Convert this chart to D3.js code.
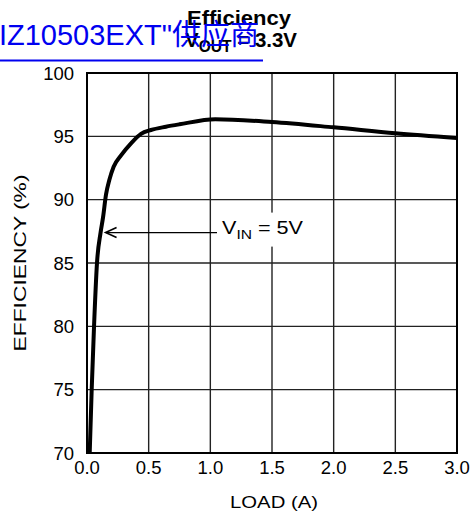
<!DOCTYPE html>
<html><head><meta charset="utf-8">
<script src="https://cdn.jsdelivr.net/npm/d3@7"></script>
<style>body{margin:0;background:#fff}svg{display:block}</style>
</head><body>
<script>
const loadA = [0.022, 0.038, 0.057, 0.081, 0.11, 0.13, 0.154, 0.181, 0.216, 0.276, 0.357, 0.438, 0.519, 0.64, 0.75, 1.04, 1.5, 2.0, 2.5, 3.0];
const efficiency = [70, 75, 80, 85, 87.4, 88.6, 90.4, 91.55, 92.6, 93.5, 94.45, 95.2, 95.5, 95.76, 95.95, 96.35, 96.13, 95.71, 95.24, 94.87];
const xTicks = [0, 0.5, 1.0, 1.5, 2.0, 2.5, 3.0];
const yTicks = [70, 75, 80, 85, 90, 95, 100];
const title = "Efficiency";
const annotation = {x: 0.11, y: 87.4};

const W = 474, H = 522;
const m = {l: 87, r: 17, t: 73, b: 69};
const svg = d3.select("body").append("svg").attr("width", W).attr("height", H);
const x = d3.scaleLinear().domain([0, 3]).range([m.l, W - m.r]);
const y = d3.scaleLinear().domain([70, 100]).range([H - m.b, m.t]);
const font = "'Liberation Sans', Arial, Helvetica, sans-serif";

// grid
svg.append("g").selectAll("line").data(xTicks.slice(1, -1)).join("line")
  .attr("x1", d => x(d)).attr("x2", d => x(d)).attr("y1", y(70)).attr("y2", y(100))
  .attr("stroke", "#222").attr("stroke-width", 1.4);
svg.append("g").selectAll("line").data(yTicks.slice(1, -1)).join("line")
  .attr("y1", d => y(d)).attr("y2", d => y(d)).attr("x1", x(0)).attr("x2", x(3))
  .attr("stroke", "#222").attr("stroke-width", 1.4);

// annotation label with white background
const lx = x(annotation.x), ly = y(annotation.y);
svg.append("rect").attr("x", 219).attr("y", ly - 20).attr("width", 87).attr("height", 34).attr("fill", "#fff");
const at = svg.append("text").attr("x", 222).attr("y", ly + 1.5)
  .attr("font-family", font).attr("font-size", 18).attr("fill", "#000")
  .attr("textLength", 81).attr("lengthAdjust", "spacingAndGlyphs");
at.append("tspan").text("V");
at.append("tspan").attr("dy", 5).attr("font-size", 13).text("IN");
at.append("tspan").attr("dy", -5).text(" = 5V");

// arrow
svg.append("line").attr("x1", 217).attr("x2", lx + 6).attr("y1", ly).attr("y2", ly)
  .attr("stroke", "#000").attr("stroke-width", 1.3);
svg.append("path").attr("d", `M${lx + 16},${ly - 5} L${lx + 5},${ly} L${lx + 16},${ly + 5}`)
  .attr("fill", "none").attr("stroke", "#000").attr("stroke-width", 1.6);

// frame
svg.append("rect").attr("x", x(0)).attr("y", y(100)).attr("width", x(3) - x(0)).attr("height", y(70) - y(100))
  .attr("fill", "none").attr("stroke", "#000").attr("stroke-width", 2);

// curve
const pts = loadA.map((d, i) => [d, efficiency[i]]);
svg.append("path").datum(pts)
  .attr("d", d3.line().x(d => x(d[0])).y(d => y(d[1])).curve(d3.curveMonotoneX))
  .attr("fill", "none").attr("stroke", "#000").attr("stroke-width", 4).attr("stroke-linejoin", "round");

// axes tick labels
svg.append("g").selectAll("text").data(yTicks).join("text")
  .attr("x", 74).attr("y", d => y(d) + 6.5).attr("text-anchor", "end")
  .attr("font-family", font).attr("font-size", 18.5).text(d => d);
svg.append("g").selectAll("text").data(xTicks).join("text")
  .attr("x", d => x(d)).attr("y", 473.5).attr("text-anchor", "middle")
  .attr("font-family", font).attr("font-size", 18.5).text(d => d.toFixed(1));

svg.append("text").attr("x", 274).attr("y", 508).attr("text-anchor", "middle")
  .attr("font-family", font).attr("font-size", 16.5)
  .attr("textLength", 88).attr("lengthAdjust", "spacingAndGlyphs").text("LOAD (A)");
svg.append("text").attr("transform", `translate(25.5,${(y(70) + y(100)) / 2}) rotate(-90)`)
  .attr("text-anchor", "middle").attr("font-family", font).attr("font-size", 16)
  .attr("textLength", 177).attr("lengthAdjust", "spacingAndGlyphs").text("EFFICIENCY (%)");

// title
svg.append("text").attr("x", 239).attr("y", 25).attr("text-anchor", "middle")
  .attr("font-family", font).attr("font-weight", "bold").attr("font-size", 21)
  .attr("textLength", 104).attr("lengthAdjust", "spacingAndGlyphs").text(title);
const t2 = svg.append("text").attr("x", 241).attr("y", 46.5).attr("text-anchor", "middle")
  .attr("font-family", font).attr("font-weight", "bold").attr("font-size", 21)
  .attr("textLength", 112).attr("lengthAdjust", "spacingAndGlyphs");
t2.append("tspan").text("V");
t2.append("tspan").attr("dy", 5).attr("font-size", 16).text("OUT");
t2.append("tspan").attr("dy", -5).text(" = 3.3V");

// blue overlay link text
svg.append("text").attr("x", 259).attr("y", 45).attr("text-anchor", "end")
  .attr("font-family", "'Liberation Sans', 'Noto Sans CJK SC', sans-serif").attr("font-size", 29)
  .attr("fill", "#0000f0").text("IZ10503EXT\"供应商");
svg.append("line").attr("x1", 0).attr("x2", 263).attr("y1", 60.5).attr("y2", 60.5)
  .attr("stroke", "#0000f0").attr("stroke-width", 2);
</script>
</body></html>
